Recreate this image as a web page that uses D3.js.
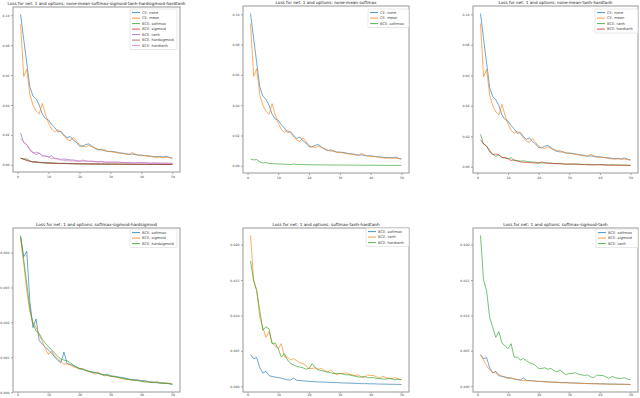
<!DOCTYPE html>
<html><head><meta charset="utf-8">
<script src="https://cdn.jsdelivr.net/npm/d3@7"></script>
<style>
html,body{margin:0;padding:0;background:#fff;}
svg{display:block;font-family:"DejaVu Sans",sans-serif;}
</style></head>
<body>
<svg id="chart" width="640" height="398"></svg>
<script>
const epochs = d3.range(1, 51);
const ceNone = [0.1005,0.084,0.068,0.052,0.046,0.044,0.040,0.034,0.031,0.030,0.027,0.025,0.022,0.0225,0.020,0.018,0.019,0.0165,0.015,0.0125,0.0125,0.0135,0.014,0.0125,0.011,0.010,0.0105,0.0095,0.009,0.009,0.0088,0.0085,0.008,0.0078,0.0075,0.007,0.0072,0.0068,0.0065,0.0066,0.0062,0.0060,0.0058,0.0055,0.0054,0.0055,0.0052,0.0058,0.0050,0.0045];
const ceMean = [0.094,0.059,0.064,0.047,0.040,0.036,0.034,0.041,0.034,0.028,0.024,0.022,0.0235,0.022,0.019,0.017,0.016,0.0185,0.016,0.0135,0.0125,0.012,0.013,0.012,0.0115,0.0105,0.0095,0.010,0.009,0.0088,0.0085,0.0080,0.0078,0.0075,0.0072,0.0068,0.0082,0.0072,0.0065,0.0060,0.0062,0.0058,0.0056,0.0052,0.0050,0.0052,0.0049,0.0050,0.0048,0.0043];
const bceSoftmax = [0.00446,0.00388,0.00404,0.0026,0.00185,0.0021,0.00148,0.00138,0.00129,0.00121,0.00112,0.00101,0.00091,0.00085,0.00115,0.00082,0.00080,0.00076,0.00072,0.00068,0.00066,0.00062,0.00060,0.00058,0.00057,0.00055,0.00051,0.00050,0.00052,0.00047,0.00046,0.00045,0.00043,0.00042,0.00040,0.00038,0.00036,0.00036,0.00035,0.00033,0.00034,0.00031,0.00030,0.00029,0.00029,0.00027,0.00027,0.00026,0.00025,0.00023];
const bceSigmoid = [0.00440,0.00370,0.00290,0.00230,0.00200,0.00185,0.00165,0.00145,0.00125,0.00108,0.00118,0.00104,0.00095,0.00088,0.00080,0.00082,0.00078,0.00073,0.00070,0.00066,0.00068,0.00062,0.00060,0.00056,0.00052,0.00058,0.00051,0.00047,0.00048,0.00046,0.00044,0.00043,0.00040,0.00038,0.00037,0.00036,0.00035,0.00033,0.00034,0.00032,0.00029,0.00031,0.00028,0.00027,0.00030,0.00026,0.00027,0.00025,0.00026,0.00024];
const bceTanh = [0.0213,0.0150,0.0135,0.0097,0.0083,0.0069,0.0077,0.0061,0.0057,0.0053,0.0060,0.0041,0.0041,0.0037,0.0039,0.0036,0.0033,0.0032,0.0029,0.0025,0.0025,0.0026,0.0024,0.0025,0.0022,0.0020,0.0023,0.0019,0.0016,0.0018,0.0018,0.0019,0.0017,0.0016,0.0015,0.0016,0.0013,0.0012,0.0016,0.0015,0.0015,0.0013,0.0011,0.0014,0.0012,0.0011,0.0011,0.0012,0.0010,0.0009];
const bceHardsigmoid = [0.00449,0.00380,0.00310,0.00240,0.00195,0.00175,0.00168,0.00152,0.00140,0.00130,0.00122,0.00112,0.00102,0.00095,0.00092,0.00090,0.00085,0.00078,0.00072,0.00068,0.00066,0.00064,0.00060,0.00058,0.00056,0.00054,0.00052,0.00050,0.00048,0.00046,0.00045,0.00043,0.00042,0.00040,0.00038,0.00036,0.00035,0.00034,0.00033,0.00031,0.00030,0.00029,0.00028,0.00028,0.00027,0.00026,0.00025,0.00025,0.00024,0.00022];
const bceHardtanh = [0.0177,0.0149,0.0135,0.0107,0.0079,0.0084,0.0081,0.0060,0.0061,0.0053,0.0041,0.0046,0.0037,0.0032,0.0030,0.0028,0.0027,0.0026,0.0024,0.0025,0.0032,0.0026,0.0023,0.0022,0.0021,0.0020,0.0019,0.0018,0.0018,0.0018,0.0017,0.0016,0.0016,0.0015,0.0014,0.0013,0.0013,0.0014,0.0012,0.0012,0.0012,0.0011,0.0011,0.0010,0.0010,0.0011,0.0010,0.0009,0.0010,0.0009];

const xTicks = [0,10,20,30,40,50];
const yTicksTop = [0,0.02,0.04,0.06,0.08,0.10];
const yTicksP4 = [0,0.001,0.002,0.003,0.004];
const yTicksP56 = [0,0.005,0.010,0.015,0.020];
const titles = [
 "Loss for net: 1 and options: none-mean-softmax-sigmoid-tanh-hardsigmoid-hardtanh",
 "Loss for net: 1 and options: none-mean-softmax",
 "Loss for net: 1 and options: none-mean-tanh-hardtanh",
 "Loss for net: 1 and options: softmax-sigmoid-hardsigmoid",
 "Loss for net: 1 and options: softmax-tanh-hardtanh",
 "Loss for net: 1 and options: softmax-sigmoid-tanh"
];
const palette = ["#1f77b4","#ff7f0e","#2ca02c","#d62728","#9467bd","#8c564b","#e377c2"];

const S = {
  ceNone:{label:"CE: none",v:ceNone}, ceMean:{label:"CE: mean",v:ceMean},
  softmax:{label:"BCE: softmax",v:bceSoftmax}, sigmoid:{label:"BCE: sigmoid",v:bceSigmoid},
  tanh:{label:"BCE: tanh",v:bceTanh}, hardsigmoid:{label:"BCE: hardsigmoid",v:bceHardsigmoid},
  hardtanh:{label:"BCE: hardtanh",v:bceHardtanh}
};

const panels = [
 {box:[13,180,7,172], series:["ceNone","ceMean","softmax","sigmoid","tanh","hardsigmoid","hardtanh"], yt:yTicksTop, fmt:".2f", leg:[130,9,47]},
 {box:[243,409,6,173], series:["ceNone","ceMean","softmax"], yt:yTicksTop, fmt:".2f", leg:[368,9,41]},
 {box:[473,638,6,173], series:["ceNone","ceMean","tanh","hardtanh"], yt:yTicksTop, fmt:".2f", leg:[595,9,43]},
 {box:[13,180,228,392], series:["softmax","sigmoid","hardsigmoid"], yt:yTicksP4, fmt:".3f", leg:[130,229,47]},
 {box:[243,409,228,392], series:["softmax","tanh","hardtanh"], yt:yTicksP56, fmt:".3f", leg:[366,228,43]},
 {box:[473,638,228,392], series:["softmax","sigmoid","tanh"], yt:yTicksP56, fmt:".3f", leg:[596,229,42]}
];

const svg = d3.select("#chart");

panels.forEach((p, i) => {
  const [L,R,T,B] = p.box;
  const allV = p.series.flatMap(k => S[k].v);
  const [ymin, ymax] = d3.extent(allV);
  const ypad = (ymax - ymin) * 0.05;
  const xpad = (50 - 1) * 0.05;
  const x = d3.scaleLinear().domain([1 - xpad, 50 + xpad]).range([L, R]);
  const y = d3.scaleLinear().domain([ymin - ypad, ymax + ypad]).range([B, T]);
  const g = svg.append("g");
  const bottomRow = i >= 3;

  g.append("text").attr("x", (L+R)/2).attr("y", T - 1.8)
    .attr("text-anchor","middle").attr("font-size", 4.2).attr("fill","#222")
    .text(titles[i]);

  const line = d3.line().x((d,j) => x(epochs[j])).y(d => y(d));
  p.series.forEach((k, si) => {
    g.append("path").datum(S[k].v).attr("d", line)
      .attr("fill","none").attr("stroke", palette[si]).attr("stroke-width", 0.9)
      .attr("stroke-opacity", 0.72).attr("stroke-linejoin","round");
  });

  const xa = d3.axisBottom(x).tickValues(xTicks).tickSize(bottomRow ? 1.3 : 2).tickPadding(bottomRow ? 0.4 : 1.5).tickFormat(d3.format("d"));
  const ya = d3.axisLeft(y).tickValues(p.yt).tickSize(2).tickPadding(1.5).tickFormat(d3.format(p.fmt));
  const gx = g.append("g").attr("transform", `translate(0,${B})`).call(xa);
  const gy = g.append("g").attr("transform", `translate(${L},0)`).call(ya);
  [gx, gy].forEach(a => {
    a.select(".domain").remove();
    a.selectAll(".tick line").attr("stroke","#666").attr("stroke-width",0.6);
    a.selectAll(".tick text").attr("font-size", 3.2).attr("fill","#444").attr("font-family","DejaVu Sans");
  });

  g.append("rect").attr("x", L).attr("y", T).attr("width", R-L).attr("height", B-T)
    .attr("fill","none").attr("stroke","#a0a0a0").attr("stroke-width",1.1);

  const [lx, ly, lw] = p.leg;
  const rowH = 5.5;
  const lg = g.append("g");
  lg.append("rect").attr("x", lx).attr("y", ly).attr("width", lw).attr("height", p.series.length*rowH + 2)
    .attr("rx",1).attr("fill","#fff").attr("fill-opacity",0.85).attr("stroke","#d0d0d0").attr("stroke-width",0.5);
  p.series.forEach((k, si) => {
    const cy = ly + 3.6 + si*rowH;
    lg.append("line").attr("x1", lx+2).attr("x2", lx+10).attr("y1", cy).attr("y2", cy)
      .attr("stroke", palette[si]).attr("stroke-width", 1).attr("stroke-opacity", 0.8);
    lg.append("text").attr("x", lx+12).attr("y", cy+1.2).attr("font-size", 3.6).attr("fill","#444")
      .text(S[k].label);
  });
});
</script>
</body></html>
